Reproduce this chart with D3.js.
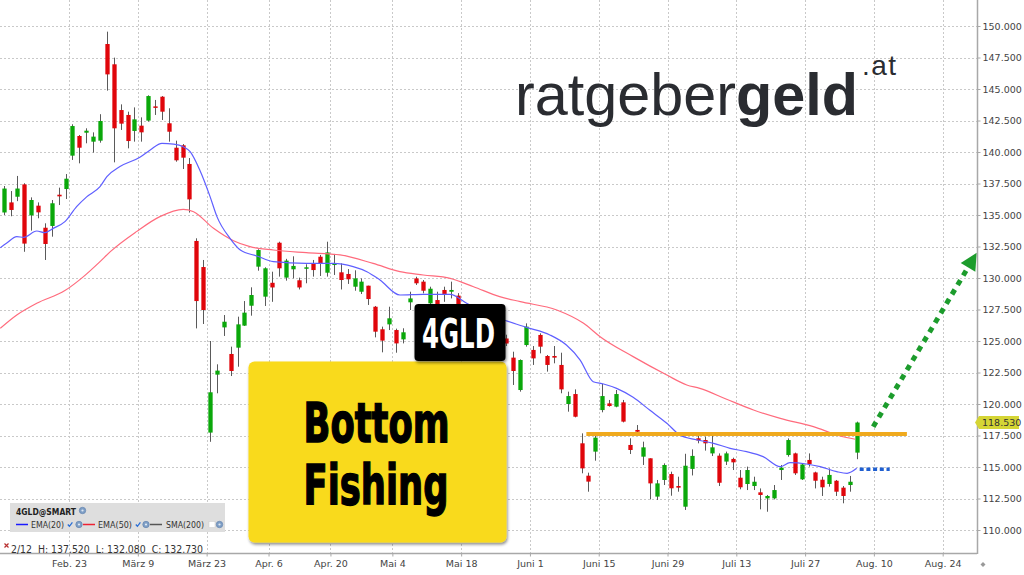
<!DOCTYPE html>
<html><head><meta charset="utf-8">
<script src="https://cdn.jsdelivr.net/npm/d3@7"></script>
<style>body{margin:0;background:#fff}svg{display:block}</style>
</head><body>
<svg id="c" width="1024" height="575"></svg>
<script>
// ---------- DATA ----------
const openV  = [135.2,136.0,136.45,137.43,134.97,135.74,133.99,134.13,136.61,137.06,
139.71,141.27,141.53,140.82,140.9,148.57,146.96,143.33,142.94,141.67,
142.09,142.49,143.62,144.39,142.28,140.34,140.53,139.05,132.94,130.87,
117.73,122.33,126.08,123.97,124.47,126.22,127.8,130.9,128.52,129.62,
132.8,130.03,130.69,129.82,130.74,131.16,131.69,130.42,131.03,130.45,
130.32,129.31,128.91,129.39,127.72,125.93,126.32,125.87,125.13,128.07,
129.97,129.71,127.99,128.25,129.05,128.91,128.6,127.4,126.5,126.8,
125.6,126.0,124.9,125.2,123.68,121.11,124.68,124.29,125.48,123.81,
123.81,123.1,120.0,120.79,116.88,114.31,116.22,119.52,120.05,119.79,
120.13,116.75,117.94,115.82,115.69,112.65,113.97,114.44,113.49,111.85,
114.85,117.28,117.14,116.08,115.9,115.43,115.64,114.15,113.65,113.49,
112.99,112.51,112.51,114.76,115.95,116.08,114.02,115.56,114.57,113.99,
113.65,113.91,113.36,113.57,116.14];
const highV  = [137.3,136.9,138.1,137.52,136.4,136.0,134.34,136.19,137.17,138.25,
142.2,141.35,141.88,141.56,143.0,149.55,147.49,143.78,143.2,143.54,
142.75,144.5,144.13,144.44,143.47,140.9,140.63,139.52,133.15,131.43,
125.0,123.15,127.06,124.55,126.93,128.17,129.26,132.28,130.85,130.5,
132.88,131.52,131.72,130.03,131.09,131.43,131.83,132.88,131.91,131.16,
130.71,130.61,129.97,129.39,127.78,126.14,127.72,125.98,126.01,128.91,
130.1,129.84,129.31,128.91,129.31,129.71,128.8,127.9,127.3,127.0,
126.6,126.4,125.9,125.5,124.15,123.54,126.4,124.6,125.61,123.89,
124.6,124.07,120.98,121.16,117.67,114.55,117.54,121.59,120.32,121.11,
120.32,117.28,118.33,117.01,115.69,113.97,115.29,114.63,114.23,116.05,
116.4,117.62,117.41,117.54,116.08,116.22,115.74,114.76,115.03,114.23,
113.3,112.78,113.57,115.16,117.27,116.14,115.29,116.08,114.63,114.23,
114.89,113.97,113.49,114.29,118.6];
const lowV   = [135.0,134.9,136.1,132.08,133.76,134.74,131.43,133.28,135.79,136.27,
139.37,139.1,140.69,139.95,140.74,144.87,139.18,141.75,140.29,140.82,
140.82,142.41,142.94,142.54,140.82,139.23,138.65,135.19,126.0,126.35,
117.0,120.85,125.4,122.22,122.96,126.19,127.01,130.58,127.78,128.11,
130.11,129.79,129.97,129.09,129.58,130.11,130.16,130.11,130.24,129.09,
129.53,128.99,128.73,127.86,125.29,124.1,125.87,124.07,124.81,127.46,
129.45,128.78,127.86,127.0,128.11,128.38,127.2,126.3,125.8,125.2,
125.0,124.6,124.5,124.6,121.51,120.98,124.55,123.1,124.02,122.57,
123.23,120.85,119.39,118.94,114.5,113.04,115.5,119.34,119.79,119.74,
118.54,116.03,117.46,115.16,112.43,112.38,113.57,112.72,113.04,111.59,
114.33,116.88,116.3,115.87,113.49,115.16,114.76,113.23,113.17,113.17,
111.64,111.45,112.43,113.97,115.82,114.37,113.97,115.03,113.3,112.7,
113.44,112.7,112.12,113.04,115.62];
const closeV = [137.1,135.4,137.1,132.73,136.19,135.21,132.7,135.93,136.48,137.88,
142.06,140.34,141.69,141.22,142.46,146.16,141.88,142.25,140.87,142.59,
141.56,144.44,143.52,143.2,141.61,139.34,139.55,136.24,128.17,127.46,
120.93,122.65,126.53,122.62,126.32,127.25,128.65,132.22,130.77,129.25,
130.77,131.38,130.96,129.25,130.85,130.63,131.16,132.03,131.16,129.84,
129.9,129.97,129.71,128.33,125.74,125.03,126.8,124.81,125.69,128.38,
129.58,128.99,129.15,127.5,128.65,129.05,127.5,126.6,127.0,125.5,
126.2,124.9,125.6,124.8,122.62,123.49,126.14,123.62,124.55,123.1,
123.68,121.16,120.63,118.99,114.89,113.84,117.33,120.63,119.84,120.79,
118.6,116.35,117.8,116.56,113.7,113.7,115.16,113.31,113.36,115.1,
115.88,117.1,116.88,116.56,113.75,116.08,115.37,113.39,114.76,113.83,
112.78,112.7,113.17,114.95,117.14,114.5,115.2,115.24,113.91,113.39,
114.37,113.04,112.7,113.83,118.53];

// EMA(20) and EMA(50) (candle index, value)
const ema20Idx = [-0.5,0.4,1.9,2.9,4.8,6.0,7.2,8.9,10.6,12.1,14.0,15.0,16.9,19.8,21.3,23.0,24.7,26.1,27.1,28.5,30.0,31.0,32.9,34.4,36.8,39.2,44.0,47.9,50.8,52.8,54.7,57.6,61.0,64.9,67.3,70.2,73.1,76.0,79.4,81.8,83.8,85.7,87.2,89.1,91.5,93.9,96.4,98.3,100.7,103.2,105.6,108.0,110.4,112.9,114.3,116.7,118.7,121.1,122.6,124.0];
const ema20Val = [132.4,132.75,133.28,133.23,133.73,133.6,133.94,134.47,135.66,136.46,137.25,138.04,138.84,139.58,140.16,140.69,140.63,140.42,140.03,138.57,136.46,134.87,133.15,132.22,131.75,131.3,131.16,131.16,130.9,130.5,129.84,128.65,128.7,128.7,127.99,127.2,126.6,126.08,125.48,124.68,123.49,121.77,121.59,121.24,120.53,119.52,118.47,117.54,117.16,116.88,116.48,116.22,115.82,115.03,115.34,115.24,115.03,114.63,114.5,114.9];
const ema50Idx = [-0.5,1.9,4.8,8.9,11.6,14.0,15.5,19.3,22.7,26.1,27.6,30.5,33.4,35.8,39.2,44.0,48.9,53.7,57.6,61.0,64.9,68.3,72.1,75.1,80.4,84.3,86.7,91.5,96.4,99.3,101.2,105.0,109.0,112.9,117.7,121.6,123.8];
const ema50Val = [126.0,127.06,127.99,129.0,130.11,131.3,132.09,133.68,134.87,135.45,135.26,133.94,132.96,132.49,132.22,132.01,131.83,131.16,130.5,130.24,129.97,129.31,128.52,128.12,127.46,126.4,125.34,123.76,122.3,121.51,121.24,120.4,119.52,118.86,118.2,117.46,117.2];

const xTickIdx    = [9.5,19.5,29.5,38.5,47.5,56.5,66.5,76.5,86.5,96.5,106.5,116.5,126.5,136.5];
const xTickLabels = ["Feb. 23","März 9","März 23","Apr. 6","Apr. 20","Mai 4","Mai 18","Juni 1","Juni 15","Juni 29","Juli 13","Juli 27","Aug. 10","Aug. 24"];
const yTicks = [110,112.5,115,117.5,120,122.5,125,127.5,130,132.5,135,137.5,140,142.5,145,147.5,150];
const lastClose = 118.53;
const resistance = {from:84.7, to:131.3, price:117.62};
const projection = {from:124.0, to:128.8, price:114.82};
const arrowLine = {fromIdx:126.4, fromP:118.2, toIdx:141.45, toP:132.0};
const infoText = "2/12  H: 137.520  L: 132.080  C: 132.730";

// ---------- SCALES ----------
const W = 1024, H = 575;
const plotR = 977, axisY = 553;
const x = d3.scaleLinear().domain([-0.538, 141.49]).range([0, plotR]);
const y = d3.scaleLinear().domain([110, 150]).range([530, 26]);
const svg = d3.select("#c");

const defs = svg.append("defs");
const f = defs.append("filter").attr("id","sh").attr("x","-10%").attr("y","-10%").attr("width","130%").attr("height","130%");
f.append("feDropShadow").attr("dx",1).attr("dy",2).attr("stdDeviation",1.6).attr("flood-color","#000").attr("flood-opacity",0.45);

// ---------- GRID ----------
const grid = svg.append("g").attr("stroke","#c9c9c9").attr("stroke-width",1).attr("stroke-dasharray","2,2");
grid.selectAll("line.h").data(yTicks).join("line")
  .attr("x1",0).attr("x2",plotR).attr("y1",d=>Math.round(y(d))+0.5).attr("y2",d=>Math.round(y(d))+0.5);
grid.selectAll("line.v").data(xTickIdx).join("line")
  .attr("y1",0).attr("y2",axisY).attr("x1",d=>Math.round(x(d))+0.5).attr("x2",d=>Math.round(x(d))+0.5);

// ---------- CANDLES ----------
const idx = d3.range(openV.length);
const bw = 4.3;
const cg = svg.append("g");
cg.selectAll("line.w").data(idx).join("line")
  .attr("x1",i=>Math.round(x(i))+0.5).attr("x2",i=>Math.round(x(i))+0.5)
  .attr("y1",i=>y(highV[i])).attr("y2",i=>y(lowV[i]))
  .attr("stroke","#5a5a5a").attr("stroke-width",1);
cg.selectAll("rect").data(idx).join("rect")
  .attr("x",i=>Math.round(x(i))+0.5-bw/2).attr("width",bw)
  .attr("y",i=>y(Math.max(openV[i],closeV[i])))
  .attr("height",i=>Math.max(1.5, Math.abs(y(openV[i])-y(closeV[i]))))
  .attr("fill",i=>closeV[i]>=openV[i]?"#0aa80a":"#e0060b");

// ---------- EMAs ----------
const lineGen = d3.line().x(d=>x(d[0])).y(d=>y(d[1])).curve(d3.curveMonotoneX);
svg.append("path").datum(ema50Idx.map((d,i)=>[d,ema50Val[i]]))
  .attr("d",lineGen).attr("fill","none").attr("stroke","#ff6b7d").attr("stroke-width",1.2);
svg.append("path").datum(ema20Idx.map((d,i)=>[d,ema20Val[i]]))
  .attr("d",lineGen).attr("fill","none").attr("stroke","#5f5fff").attr("stroke-width",1.2);

// ---------- ANNOTATIONS ----------
svg.append("line").attr("x1",x(resistance.from)).attr("x2",x(resistance.to))
  .attr("y1",y(resistance.price)).attr("y2",y(resistance.price))
  .attr("stroke","#f0aa1e").attr("stroke-width",4.2);
svg.append("line").attr("x1",x(projection.from)+3).attr("x2",x(projection.to))
  .attr("y1",y(projection.price)).attr("y2",y(projection.price))
  .attr("stroke","#1f5fd0").attr("stroke-width",3.3).attr("stroke-dasharray","4,2.7");

// green arrow
{
  const x1 = x(arrowLine.fromIdx), y1 = y(arrowLine.fromP), x2 = x(arrowLine.toIdx), y2 = y(arrowLine.toP);
  const dx = x2-x1, dy = y2-y1, L = Math.hypot(dx,dy), ux = dx/L, uy = dy/L;
  const hl = 17, hw = 8.5;
  const bx = x2-hl*ux, by = y2-hl*uy;
  svg.append("line").attr("x1",x1).attr("y1",y1).attr("x2",bx).attr("y2",by)
    .attr("stroke","#1c9c2c").attr("stroke-width",5).attr("stroke-dasharray","5.5,5.5");
  svg.append("path").attr("d",`M${x2},${y2}L${bx-uy*hw},${by+ux*hw}L${bx+uy*hw},${by-ux*hw}Z`)
    .attr("fill","#1c9c2c");
}

// ---------- BOXES ----------
svg.append("rect").attr("x",248.5).attr("y",361.5).attr("width",258).attr("height",181).attr("rx",6)
  .attr("fill","#f9da1d").attr("filter","url(#sh)");
const bf = svg.append("g").attr("font-family","'Liberation Sans Narrow','DejaVu Sans Condensed',sans-serif")
  .attr("font-weight","bold").attr("font-size",55).attr("fill","#000").attr("stroke","#000").attr("stroke-width",1.4)
  .attr("text-anchor","middle");
bf.append("text").attr("x",376.5).attr("y",441.5).attr("textLength",146).attr("lengthAdjust","spacingAndGlyphs").text("Bottom");
bf.append("text").attr("x",376).attr("y",503.5).attr("textLength",145).attr("lengthAdjust","spacingAndGlyphs").text("Fishing");

svg.append("rect").attr("x",414.5).attr("y",304).attr("width",91).attr("height",57).attr("rx",4)
  .attr("fill","#000").attr("filter","url(#sh)");
svg.append("text").attr("x",458.5).attr("y",347.7).attr("text-anchor","middle")
  .attr("font-family","'Liberation Sans Narrow','DejaVu Sans Condensed',sans-serif").attr("font-weight","bold")
  .attr("font-size",40).attr("fill","#fff").attr("textLength",73).attr("lengthAdjust","spacingAndGlyphs").text("4GLD");

// ---------- LOGO ----------
{
  const lg = svg.append("text").attr("x",515).attr("y",115).attr("font-family","'Liberation Sans',Arial,sans-serif")
    .attr("font-size",58).attr("fill","#2a2c31");
  lg.append("tspan").text("ratgeber");
  lg.append("tspan").attr("font-weight","bold").text("geld");
  const len = lg.node().getComputedTextLength();
  lg.attr("font-size", 58*343/len);
  svg.append("text").attr("x",862).attr("y",75).attr("font-family","'Liberation Sans',Arial,sans-serif")
    .attr("font-size",28).attr("letter-spacing",1.5).attr("fill","#2a2c31").text(".at");
}

// ---------- AXES ----------
svg.append("line").attr("x1",0).attr("x2",plotR).attr("y1",axisY+0.5).attr("y2",axisY+0.5).attr("stroke","#a8a8a8").attr("stroke-width",1.5);
svg.append("line").attr("x1",plotR+0.5).attr("x2",plotR+0.5).attr("y1",0).attr("y2",axisY+1).attr("stroke","#a8a8a8").attr("stroke-width",1.5);

const yAxis = d3.axisRight(y).tickValues(yTicks).tickFormat(d3.format(".3f")).tickSize(3).tickPadding(2);
const ya = svg.append("g").attr("transform",`translate(${plotR+0.5},0)`).call(yAxis);
ya.select(".domain").remove();
ya.selectAll("line").attr("stroke","#a8a8a8");
ya.selectAll("text").attr("font-family","'DejaVu Sans',sans-serif").attr("font-size",9.5).attr("fill","#444");

const xAxis = d3.axisBottom(x).tickValues(xTickIdx).tickFormat((d,i)=>xTickLabels[i]).tickSize(3).tickPadding(4);
const xa = svg.append("g").attr("transform",`translate(0,${axisY+0.5})`).call(xAxis);
xa.select(".domain").remove();
xa.selectAll("line").attr("stroke","#a8a8a8");
xa.selectAll("text").attr("font-family","'DejaVu Sans',sans-serif").attr("font-size",9.5).attr("fill","#444");

// last price label
{
  const yy = y(lastClose);
  svg.append("path").attr("d",`M975,${yy}L979,${yy-6.5}L1019,${yy-6.5}L1019,${yy+6.5}L979,${yy+6.5}Z`).attr("fill","#d5d535");
  svg.append("text").attr("x",982).attr("y",yy).attr("dy","0.35em").attr("font-family","'DejaVu Sans',sans-serif")
    .attr("font-size",9.5).attr("fill","#333").text(d3.format(".3f")(lastClose));
}
// small corner icon
svg.append("path").attr("d","M983,562L985.5,564.5L983,567L980.5,564.5Z").attr("fill","#999");

// ---------- LEGEND ----------
{
  const g = svg.append("g").attr("font-family","'DejaVu Sans',sans-serif");
  g.append("rect").attr("x",10).attr("y",503).attr("width",215).attr("height",29).attr("fill","#dedede");
  g.append("text").attr("x",16).attr("y",514.5).attr("font-size",8.5).attr("font-weight","bold").attr("fill","#222")
    .attr("textLength",60).attr("lengthAdjust","spacingAndGlyphs").text("4GLD@SMART");
  const gear = (cx,cy)=>{ g.append("circle").attr("cx",cx).attr("cy",cy).attr("r",3.2).attr("fill","#7f9fc6").attr("stroke","#6a89b2").attr("stroke-width",0.8);
    g.append("circle").attr("cx",cx).attr("cy",cy).attr("r",1.1).attr("fill","#dfe8f3"); };
  const check = (cx,cy)=> g.append("path").attr("d",`M${cx-2.2},${cy}L${cx-0.6},${cy+1.8}L${cx+2.4},${cy-2.2}`).attr("fill","none").attr("stroke","#2a6fd6").attr("stroke-width",1.3);
  gear(82.5,510.5);
  const items = [{c:"#1a1aff",x0:16,t:"EMA(20)",tx:31,tl:33,ck:70,gr:79},{c:"#ee2233",x0:83,t:"EMA(50)",tx:98,tl:34,ck:138,gr:146},{c:"#555",x0:150,t:"SMA(200)",tx:166,tl:38,ck:null,gr:219.5}];
  items.forEach(it=>{
    g.append("line").attr("x1",it.x0).attr("x2",it.x0+12).attr("y1",524.5).attr("y2",524.5).attr("stroke",it.c).attr("stroke-width",1.5);
    g.append("text").attr("x",it.tx).attr("y",528).attr("font-size",9).attr("fill","#333")
      .attr("textLength",it.tl).attr("lengthAdjust","spacingAndGlyphs").text(it.t);
    if(it.ck) check(it.ck,524.5); else g.append("rect").attr("x",209).attr("y",521.5).attr("width",6).attr("height",6).attr("fill","#fff").attr("stroke","#ccc").attr("stroke-width",0.5);
    gear(it.gr,524.5);
  });
  g.append("path").attr("d","M4.5,543.5L8.5,547.5M8.5,543.5L4.5,547.5").attr("stroke","#b83030").attr("stroke-width",1.2);
  g.append("text").attr("x",11).attr("y",552.5).attr("font-size",10).attr("fill","#333")
    .attr("textLength",192).attr("lengthAdjust","spacingAndGlyphs").attr("xml:space","preserve").style("white-space","pre").text(infoText);
}
</script>
</body></html>
